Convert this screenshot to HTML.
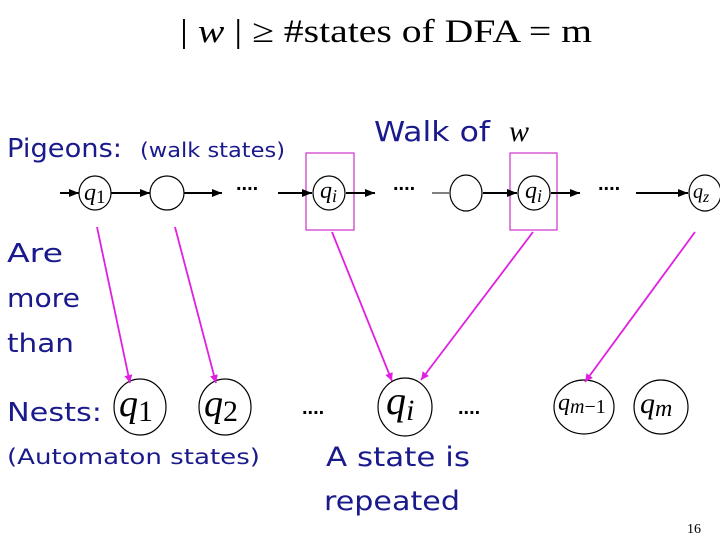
<!DOCTYPE html>
<html><head><meta charset="utf-8"><style>
body{margin:0;width:720px;height:540px;background:#fff;overflow:hidden;position:relative}
svg{position:absolute;left:0;top:0}
.c{font-family:"DejaVu Sans","Liberation Sans",sans-serif;fill:#1a1a8c}
.m{font-family:"Liberation Serif",serif;font-style:italic;fill:#000}
.r{font-family:"Liberation Serif",serif;fill:#000}
</style></head><body>
<svg width="720" height="540" viewBox="0 0 720 540">
<defs>
<marker id="a" markerWidth="10" markerHeight="8" refX="10" refY="4" orient="auto" markerUnits="userSpaceOnUse"><path d="M0,0L10,4L0,8Z" fill="#000"/></marker>
<marker id="p" markerWidth="8" markerHeight="8" refX="8" refY="4" orient="auto" markerUnits="userSpaceOnUse"><path d="M0,0L8,4L0,8Z" fill="#e020e0"/></marker>
</defs>
<text x="180" y="42" class="r" font-size="33" textLength="412" lengthAdjust="spacingAndGlyphs">| <tspan font-style="italic">w</tspan> |  ≥ #states of DFA = m</text>
<text x="7" y="157" class="c" font-size="26" textLength="115" lengthAdjust="spacingAndGlyphs">Pigeons:</text>
<text x="140" y="157" class="c" font-size="20" textLength="145" lengthAdjust="spacingAndGlyphs">(walk states)</text>
<text x="374" y="141" class="c" font-size="28" textLength="116" lengthAdjust="spacingAndGlyphs">Walk of</text>
<text x="509" y="141" class="m" font-size="30">w</text>
<text x="7" y="262" class="c" font-size="26" textLength="56" lengthAdjust="spacingAndGlyphs">Are</text>
<text x="7" y="307" class="c" font-size="26" textLength="73" lengthAdjust="spacingAndGlyphs">more</text>
<text x="7" y="352" class="c" font-size="26" textLength="67" lengthAdjust="spacingAndGlyphs">than</text>
<text x="7" y="421" class="c" font-size="26" textLength="95" lengthAdjust="spacingAndGlyphs">Nests:</text>
<text x="7" y="464" class="c" font-size="21" textLength="253" lengthAdjust="spacingAndGlyphs">(Automaton states)</text>
<text x="326" y="466" class="c" font-size="27" textLength="144" lengthAdjust="spacingAndGlyphs">A state is</text>
<text x="324" y="510" class="c" font-size="27" textLength="136" lengthAdjust="spacingAndGlyphs">repeated</text>
<text x="687" y="533" class="r" font-size="14">16</text>
<rect x="306" y="153" width="48" height="77" fill="none" stroke="#cc33cc" stroke-width="1.2"/>
<rect x="510" y="153" width="47" height="77" fill="none" stroke="#cc33cc" stroke-width="1.2"/>
<g stroke="#000" stroke-width="2" fill="none">
<line x1="60" y1="193" x2="79" y2="193" marker-end="url(#a)"/>
<line x1="111" y1="193" x2="150" y2="193" marker-end="url(#a)"/>
<line x1="184" y1="193" x2="222" y2="193" marker-end="url(#a)"/>
<line x1="278" y1="193" x2="312" y2="193" marker-end="url(#a)"/>
<line x1="346" y1="193" x2="375" y2="193" marker-end="url(#a)"/>
<line x1="432" y1="193" x2="449" y2="193" stroke-width="1"/>
<line x1="483" y1="193" x2="517" y2="193" marker-end="url(#a)"/>
<line x1="551" y1="193" x2="580" y2="193" marker-end="url(#a)"/>
<line x1="636" y1="193" x2="688" y2="193" marker-end="url(#a)"/>
</g>
<g stroke="#000" stroke-width="1.2" fill="#fff">
<ellipse cx="95" cy="193" rx="16" ry="17"/>
<ellipse cx="167" cy="193" rx="17" ry="17"/>
<ellipse cx="329" cy="193" rx="16" ry="17"/>
<ellipse cx="466" cy="193" rx="16" ry="18"/>
<ellipse cx="534" cy="193" rx="16" ry="17"/>
<ellipse cx="705" cy="193" rx="16" ry="18"/>
<ellipse cx="140" cy="407" rx="26" ry="28"/>
<ellipse cx="225" cy="407" rx="26" ry="28"/>
<ellipse cx="405" cy="407" rx="27" ry="29"/>
<ellipse cx="584" cy="407" rx="30" ry="27"/>
<ellipse cx="661" cy="407" rx="27" ry="27"/>
</g>
<text x="84" y="200" class="m" font-size="24">q<tspan font-style="normal" font-size="19" dy="3">1</tspan></text>
<text x="320" y="198" class="m" font-size="24">q<tspan font-size="18" dy="4">i</tspan></text>
<text x="525" y="198" class="m" font-size="24">q<tspan font-size="18" dy="4">i</tspan></text>
<text x="693" y="198" class="m" font-size="20">q<tspan font-size="16" dy="4">z</tspan></text>
<text x="119" y="416" class="m" font-size="38">q<tspan font-style="normal" font-size="30" dy="5">1</tspan></text>
<text x="204" y="416" class="m" font-size="38">q<tspan font-style="normal" font-size="30" dy="5">2</tspan></text>
<text x="386" y="414" class="m" font-size="40">q<tspan font-size="30" dy="6">i</tspan></text>
<text x="558" y="410" class="m" font-size="24">q<tspan font-size="20" dy="3">m<tspan font-style="normal">−1</tspan></tspan></text>
<text x="640" y="413" class="m" font-size="30">q<tspan font-size="24" dy="3">m</tspan></text>
<g font-family="Liberation Sans" font-size="20" font-weight="bold" fill="#000">
<text x="236" y="190">....</text>
<text x="393" y="190">....</text>
<text x="598" y="190">....</text>
<text x="302" y="414">....</text>
<text x="458" y="414">....</text>
</g>
<g stroke="#e020e0" stroke-width="1.8" fill="none">
<line x1="97" y1="227" x2="130" y2="383" marker-end="url(#p)"/>
<line x1="175" y1="227" x2="216" y2="383" marker-end="url(#p)"/>
<line x1="332" y1="232" x2="392" y2="381" marker-end="url(#p)"/>
<line x1="533" y1="232" x2="421" y2="380" marker-end="url(#p)"/>
<line x1="695" y1="232" x2="585" y2="382" marker-end="url(#p)"/>
</g>
</svg>
</body></html>
